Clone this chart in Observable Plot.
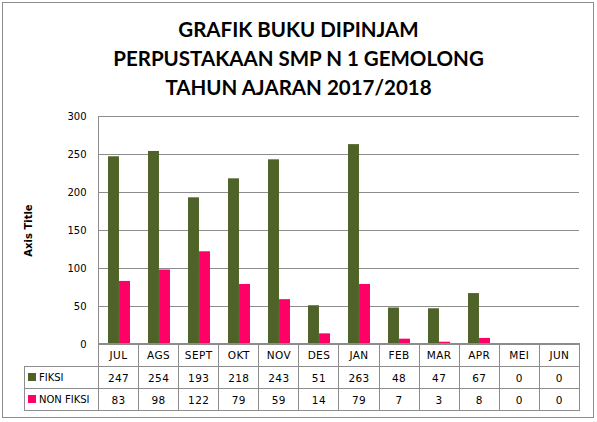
<!DOCTYPE html>
<html><head><meta charset="utf-8">
<script src="https://cdn.jsdelivr.net/npm/d3@7"></script>
<script src="https://cdn.jsdelivr.net/npm/@observablehq/plot@0.6"></script>
<style>
body{margin:0;background:#fff;}
#wrap{position:relative;width:597px;height:422px;overflow:hidden;background:#fff;}
#border{position:absolute;left:2px;top:2px;width:592px;height:416px;border:1px solid #8c8c8c;box-sizing:border-box;}
#title{position:absolute;left:0;top:15px;width:597px;text-align:center;font-family:Lato,sans-serif;font-weight:bold;font-size:20.5px;line-height:29px;color:#000;}
#chart{position:absolute;left:0;top:0;}
#tbl{position:absolute;left:24px;top:343px;border-collapse:collapse;font-family:"DejaVu Sans",sans-serif;font-size:10.5px;letter-spacing:0.4px;color:#000;table-layout:fixed;}
#tbl td{border:1px solid #8c8c8c;text-align:center;padding:0;height:22px;box-sizing:border-box;overflow:hidden;white-space:nowrap;}
#tbl td.lab{text-align:left;padding-left:3px;font-size:10px;letter-spacing:0;}
#tbl td.blank{border:none;border-right:1px solid #8c8c8c;}
.sw{display:inline-block;width:8px;height:8px;margin-right:3px;vertical-align:-0px;}
</style></head>
<body><div id="wrap"><div id="border"></div>
<div id="title">GRAFIK BUKU DIPINJAM<br>PERPUSTAKAAN SMP N 1 GEMOLONG<br>TAHUN AJARAN 2017/2018</div>
<div id="chart"></div>
<table id="tbl"></table>
</div>
<script>
const months = ["JUL","AGS","SEPT","OKT","NOV","DES","JAN","FEB","MAR","APR","MEI","JUN"];
const fiksi = [247,254,193,218,243,51,263,48,47,67,0,0];
const nonFiksi = [83,98,122,79,59,14,79,7,3,8,0,0];
const seriesNames = ["FIKSI","NON FIKSI"];
const colors = ["#4F6228","#FF0066"];
const yTicks = [0,50,100,150,200,250,300];

const W = 597, H = 422, mL = 98, mR = 18, mT = 116, mB = 78;
const bw = (W - mL - mR) / months.length;

const rowsF = months.map((m,i)=>({month:m, value:fiksi[i]}));
const rowsN = months.map((m,i)=>({month:m, value:nonFiksi[i]}));

const plot = Plot.plot({
  width: W, height: H,
  marginLeft: mL, marginRight: mR, marginTop: mT, marginBottom: mB,
  style: {fontFamily: "DejaVu Sans, sans-serif", fontSize: "10px", background: "transparent", overflow: "visible"},
  x: {domain: months, padding: 0, axis: null},
  y: {domain: [0,300], axis: null},
  marks: [
    Plot.ruleY(yTicks, {stroke: "#8c8c8c", strokeWidth: 1}),
    Plot.barY(rowsF, {x: "month", y: "value", fill: colors[0], insetLeft: bw*0.225, insetRight: bw*0.5}),
    Plot.barY(rowsN, {x: "month", y: "value", fill: colors[1], insetLeft: bw*0.5, insetRight: bw*0.225}),
    Plot.frame({anchor: "left", stroke: "#8c8c8c"}),
    Plot.axisY(yTicks, {tickSize: 0, tickPadding: 12, fontSize: 10, tickFormat: d => String(d), label: null}),
    Plot.text(["Axis Title"], {frameAnchor: "left", dx: -70, rotate: -90, fontWeight: "bold", fontSize: 10, textAnchor: "middle"})
  ]
});
document.getElementById("chart").appendChild(plot);

// data table under the chart
const tbl = document.getElementById("tbl");
let html = `<colgroup><col style="width:${mL-24}px">` + months.map(()=>`<col style="width:${bw}px">`).join("") + `</colgroup>`;
html += `<tr><td class="blank" style="height:23px"></td>` + months.map(m=>`<td style="height:23px">${m}</td>`).join("") + `</tr>`;
[fiksi, nonFiksi].forEach((arr, k) => {
  html += `<tr><td class="lab"><span class="sw" style="background:${colors[k]}"></span>${seriesNames[k]}</td>` + arr.map(v=>`<td>${v}</td>`).join("") + `</tr>`;
});
tbl.innerHTML = html;
tbl.style.width = (W - mR - 24) + "px";
</script>
</body></html>
